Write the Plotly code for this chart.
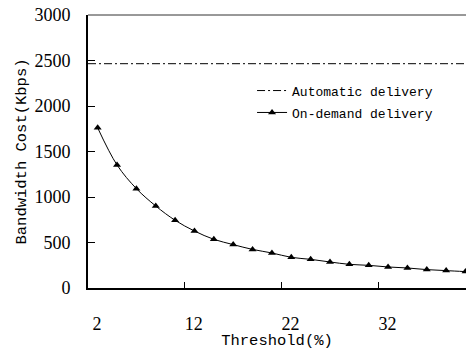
import plotly.graph_objects as go

threshold = [3, 5, 7, 9, 11, 13, 15, 17, 19, 21, 23, 25, 27, 29, 31, 33, 35, 37, 39, 41]
on_demand = [1760, 1352, 1092, 901, 744, 626, 535, 477, 424, 385, 337, 315, 286, 260, 249, 231, 220, 202, 191, 180]
automatic_value = 2465
x_ticks = [2, 12, 22, 32]
y_ticks = [0, 500, 1000, 1500, 2000, 2500, 3000]
x_range = [2, 41.05]

mono = "'Liberation Mono', 'Courier New', monospace"
serif = "'Liberation Serif', 'Times New Roman', serif"

fig = go.Figure()
fig.add_trace(go.Scatter(
    x=[2, 41.2], y=[automatic_value, automatic_value], mode="lines",
    name="Automatic delivery",
    line=dict(color="black", width=1, dash="8px,3px,2px,3px"),
    legendgroup="a",
))
fig.add_trace(go.Scatter(
    x=threshold, y=on_demand, mode="lines+markers",
    name="On-demand delivery",
    line=dict(color="black", width=1, shape="spline"),
    marker=dict(symbol="triangle-up", size=7, color="black"),
    legendgroup="b",
))
# invisible carrier trace for the label axis
fig.add_trace(go.Scatter(x=[x_ticks[0]], y=[0], xaxis="x2", mode="markers",
                         marker=dict(opacity=0), showlegend=False, hoverinfo="skip"))

fig.update_layout(
    width=466, height=350,
    margin=dict(l=88, r=0, t=15, b=62),
    paper_bgcolor="white", plot_bgcolor="white",
    showlegend=True,
    legend=dict(
        x=0.434, y=0.778, xanchor="left", yanchor="top",
        bgcolor="rgba(0,0,0,0)", borderwidth=0,
        font=dict(family=mono, size=13, color="black"),
        traceorder="grouped", tracegroupgap=2,
    ),
    shapes=[dict(type="line", xref="paper", yref="paper", x0=0, x1=1, y0=1, y1=1,
                 line=dict(color="#333", width=1))],
    xaxis=dict(
        range=x_range, tickvals=x_ticks, showticklabels=False,
        ticks="inside", ticklen=6, tickwidth=1, tickcolor="black",
        showline=True, linecolor="black", linewidth=2,
        showgrid=False, zeroline=False,
    ),
    xaxis2=dict(
        overlaying="x", anchor="y", side="bottom",
        range=x_range, tickvals=x_ticks, ticktext=[str(v) for v in x_ticks],
        ticks="outside", ticklen=19, tickcolor="rgba(0,0,0,0)",
        showline=False, showgrid=False, zeroline=False,
        tickfont=dict(family=serif, size=18, color="black"),
        ticklabelshift=9,
        title=dict(text="Threshold(%)", font=dict(family=mono, size=15.5, color="black"), standoff=2),
    ),
    yaxis=dict(
        range=[0, 3000], tickvals=y_ticks,
        ticks="inside", ticklen=7, tickwidth=1, tickcolor="black",
        showline=True, linecolor="black", linewidth=2,
        showgrid=False, zeroline=False,
        tickfont=dict(family=serif, size=18, color="black"),
        ticklabelstandoff=12,
        title=dict(text="Bandwidth Cost(Kbps)", font=dict(family=mono, size=15.5, color="black"), standoff=4),
    ),
)

fig.write_html("out.html")
